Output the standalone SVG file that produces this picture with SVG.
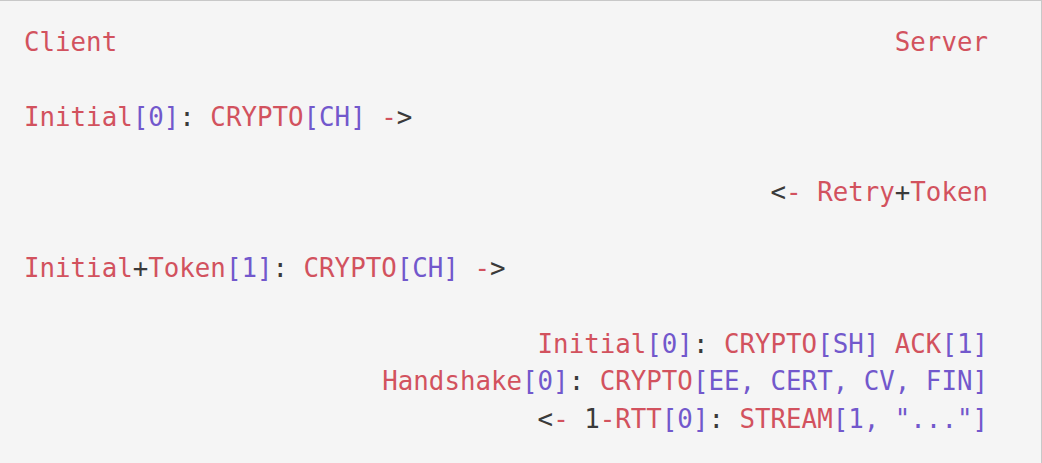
<svg xmlns="http://www.w3.org/2000/svg" width="1042" height="463" viewBox="0 0 1042 463">
<style>
text{font-family:"DejaVu Sans Mono","Liberation Mono",monospace;font-size:25.8px;fill:#d2525e;white-space:pre}
.p{fill:#7258cc}
.d{fill:#3a3a3a}
</style>
<rect x="0" y="0" width="1042" height="463" fill="#f5f5f5"/>
<line x1="0" y1="0.5" x2="1042" y2="0.5" stroke="#c8c8c8" stroke-width="1"/>
<line x1="1041.5" y1="0" x2="1041.5" y2="463" stroke="#c8c8c8" stroke-width="1"/>
<g id="header">
<text x="24" y="51">Client</text>
<text x="988" y="51" text-anchor="end">Server</text>
</g>
<g id="line1">
<text x="24" y="126">Initial<tspan class="p">[0]</tspan><tspan class="d">:</tspan> CRYPTO<tspan class="p">[CH]</tspan> -<tspan class="d">&gt;</tspan></text>
</g>
<g id="line2">
<text x="988" y="201" text-anchor="end"><tspan class="d">&lt;</tspan>- Retry<tspan class="d">+</tspan>Token</text>
</g>
<g id="line3">
<text x="24" y="277">Initial<tspan class="d">+</tspan>Token<tspan class="p">[1]</tspan><tspan class="d">:</tspan> CRYPTO<tspan class="p">[CH]</tspan> -<tspan class="d">&gt;</tspan></text>
</g>
<g id="line4">
<text x="988" y="352.5" text-anchor="end">Initial<tspan class="p">[0]</tspan><tspan class="d">:</tspan> CRYPTO<tspan class="p">[SH]</tspan> ACK<tspan class="p">[1]</tspan></text>
<text x="988" y="390" text-anchor="end">Handshake<tspan class="p">[0]</tspan><tspan class="d">:</tspan> CRYPTO<tspan class="p">[EE, CERT, CV, FIN]</tspan></text>
<text x="988" y="427.5" text-anchor="end"><tspan class="d">&lt;</tspan>- <tspan class="d">1</tspan>-RTT<tspan class="p">[0]</tspan><tspan class="d">:</tspan> STREAM<tspan class="p">[1, "..."]</tspan></text>
</g>
<g id="connectors"></g>
</svg>
